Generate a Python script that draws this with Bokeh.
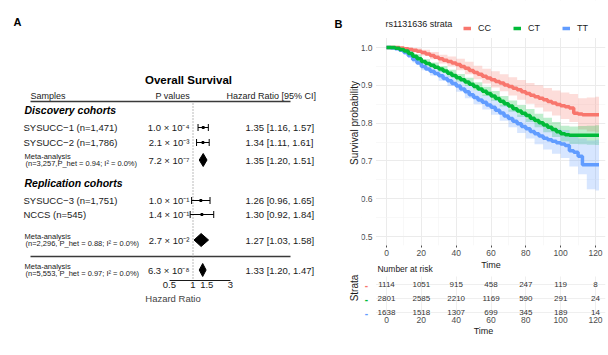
import math
from bokeh.plotting import figure
from bokeh.layouts import row, column
from bokeh.models import (Range1d, LinearScale, FixedTicker, NumeralTickFormatter,
                          SingleIntervalTicker, Legend, LegendItem, BoxAnnotation)
from bokeh.core.properties import value
from bokeh.embed import file_html
from bokeh.resources import INLINE

FONT = "Liberation Sans"

# ---------------- data: forest plot (panel A) ----------------
row_labels = ["SYSUCC−1 (n=1,471)", "SYSUCC−2 (n=1,786)", "Meta-analysis",
              "SYSUCC−3 (n=1,751)", "NCCS (n=545)", "Meta-analysis", "Meta-analysis"]
row_sublabels = ["", "", "(n=3,257,P_het = 0.94; I² = 0.0%)", "", "",
                 "(n=2,296, P_het = 0.88; I² = 0.0%)", "(n=5,553, P_het = 0.97; I² = 0.0%)"]
row_is_meta = [False, False, True, False, False, True, True]
hr = [1.35, 1.34, 1.35, 1.26, 1.30, 1.27, 1.33]
hr_low = [1.16, 1.11, 1.20, 0.96, 0.92, 1.03, 1.20]
hr_high = [1.57, 1.61, 1.51, 1.65, 1.84, 1.58, 1.47]
p_values = ["1.0 × 10⁻⁴", "2.1 × 10⁻³", "7.2 × 10⁻⁷", "1.0 × 10⁻¹",
            "1.4 × 10⁻¹", "2.7 × 10⁻²", "6.3 × 10⁻⁸"]
group_titles = ["Discovery cohorts", "Replication cohorts"]
column_headers = ["Samples", "P values", "Hazard Ratio [95% CI]"]
hr_ticks = [0.5, 1, 1.5, 3]

# ---------------- data: Kaplan-Meier (panel B) ----------------
strata = ["CC", "CT", "TT"]
legend_title = "rs1131636 strata"
curve_time = [0, 2.5, 5, 7.5, 10, 12.5, 15, 17.5, 20, 22.5, 25, 27.5, 30, 32.5, 35, 37.5, 40,
              42.5, 45, 47.5, 50, 52.5, 55, 57.5, 60, 62.5, 65, 67.5, 70, 72.5, 75, 77.5, 80,
              82.5, 85, 87.5, 90, 92.5, 95, 97.5, 100, 102.5, 105, 107.5, 110, 112.5, 115,
              117.5, 120, 122]
surv_cc = [1.000, 1.000, 1.000, 0.999, 0.997, 0.995, 0.993, 0.990, 0.987, 0.983, 0.979, 0.974,
           0.970, 0.966, 0.963, 0.959, 0.955, 0.950, 0.945, 0.939, 0.934, 0.929, 0.924, 0.919,
           0.915, 0.910, 0.906, 0.901, 0.897, 0.892, 0.888, 0.883, 0.878, 0.874, 0.870, 0.866,
           0.862, 0.857, 0.853, 0.849, 0.846, 0.843, 0.840, 0.826, 0.824, 0.822, 0.822, 0.822,
           0.822, 0.822]
surv_ct = [1.000, 1.000, 0.998, 0.995, 0.991, 0.984, 0.977, 0.970, 0.963, 0.958, 0.953, 0.948,
           0.943, 0.938, 0.932, 0.926, 0.920, 0.915, 0.909, 0.903, 0.897, 0.890, 0.884, 0.878,
           0.872, 0.865, 0.858, 0.851, 0.845, 0.838, 0.832, 0.826, 0.820, 0.813, 0.807, 0.801,
           0.795, 0.789, 0.783, 0.777, 0.772, 0.769, 0.768, 0.768, 0.768, 0.768, 0.768, 0.768,
           0.768, 0.768]
surv_tt = [1.000, 0.999, 0.997, 0.993, 0.987, 0.978, 0.968, 0.959, 0.950, 0.943, 0.937, 0.931,
           0.925, 0.918, 0.912, 0.905, 0.898, 0.890, 0.883, 0.875, 0.868, 0.861, 0.855, 0.848,
           0.842, 0.834, 0.827, 0.819, 0.812, 0.805, 0.798, 0.791, 0.785, 0.778, 0.772, 0.766,
           0.760, 0.756, 0.752, 0.748, 0.745, 0.741, 0.727, 0.723, 0.712, 0.690, 0.690, 0.690,
           0.690, 0.690]
band_time = [0, 5, 10, 15, 20, 25, 30, 35, 40, 45, 50, 55, 60, 65, 70, 75, 80, 85, 90, 95, 100,
             105, 110, 115, 120, 122]
low_cc = [1.000, 0.999, 0.993, 0.987, 0.979, 0.969, 0.958, 0.950, 0.940, 0.929, 0.916, 0.905, 0.894,
          0.884, 0.873, 0.862, 0.851, 0.841, 0.831, 0.820, 0.811, 0.803, 0.783, 0.778, 0.775, 0.775]
up_cc = [1.000, 1.000, 1.000, 0.998, 0.994, 0.988, 0.981, 0.976, 0.970, 0.962, 0.952, 0.944, 0.937,
         0.929, 0.921, 0.914, 0.906, 0.900, 0.893, 0.886, 0.881, 0.877, 0.866, 0.868, 0.870, 0.870]
low_ct = [1.000, 0.996, 0.987, 0.972, 0.957, 0.946, 0.935, 0.923, 0.910, 0.898, 0.886, 0.872, 0.859,
          0.844, 0.830, 0.816, 0.803, 0.789, 0.776, 0.763, 0.751, 0.745, 0.744, 0.743, 0.742, 0.742]
up_ct = [1.000, 1.000, 0.995, 0.982, 0.969, 0.960, 0.951, 0.941, 0.930, 0.920, 0.908, 0.896, 0.885,
         0.872, 0.860, 0.848, 0.837, 0.825, 0.814, 0.803, 0.793, 0.791, 0.792, 0.793, 0.794, 0.794]
low_tt = [1.000, 0.994, 0.981, 0.960, 0.940, 0.926, 0.912, 0.898, 0.883, 0.866, 0.850, 0.836, 0.822,
          0.806, 0.789, 0.774, 0.759, 0.744, 0.730, 0.719, 0.708, 0.685, 0.665, 0.625, 0.622, 0.622]
up_tt = [1.000, 1.000, 0.993, 0.976, 0.960, 0.948, 0.938, 0.926, 0.913, 0.900, 0.886, 0.874, 0.862,
         0.848, 0.835, 0.822, 0.811, 0.800, 0.790, 0.785, 0.782, 0.769, 0.759, 0.754, 0.756, 0.756]
surv_ticks = [0.5, 0.6, 0.7, 0.8, 0.9, 1.0]
surv_minor = [0.55, 0.65, 0.75, 0.85, 0.95]
risk_time = [0, 20, 40, 60, 80, 100, 120]
risk_cc = [1114, 1051, 915, 458, 247, 119, 8]
risk_ct = [2801, 2585, 2210, 1169, 590, 291, 24]
risk_tt = [1638, 1518, 1307, 699, 345, 189, 14]

COLORS = ["#F8766D", "#00BA38", "#619CFF"]

# =============== Panel A: forest plot ===============
LW = 345
PX_PER_LN = 34.0
X_ONE = 192.5
AXIS_Y = 280

left = figure(width=LW, height=355, x_axis_type="log",
              x_range=Range1d(math.exp(-X_ONE / PX_PER_LN), math.exp((LW - X_ONE) / PX_PER_LN)),
              y_range=Range1d(AXIS_Y, 0), y_axis_location=None,
              output_backend="svg", toolbar_location=None,
              min_border_left=0, min_border_right=0, min_border_top=0,
              min_border_bottom=355 - AXIS_Y)
left.extra_x_ranges = {"px": Range1d(0, LW)}
left.extra_x_scales = {"px": LinearScale()}
left.grid.visible = False
left.outline_line_color = None

ax = left.xaxis[0]
ax.bounds = (min(hr_ticks), max(hr_ticks))
ax.ticker = FixedTicker(ticks=hr_ticks)
ax.formatter = NumeralTickFormatter(format="0.[0]")
ax.axis_label = "Hazard Ratio"
ax.axis_label_text_font = FONT
ax.axis_label_text_font_style = "normal"
ax.axis_label_text_font_size = "9.5px"
ax.axis_label_standoff = 2
ax.major_label_text_font = FONT
ax.major_label_text_font_size = "9.5px"
ax.major_label_text_color = "#1a1a1a"
ax.major_label_standoff = 1
ax.major_tick_out = 0
ax.major_tick_in = 0
ax.minor_tick_out = 0
ax.minor_tick_in = 0
ax.axis_line_color = "#1a1a1a"
ax.axis_line_width = 1

row_y = [127, 142, 159.5, 200, 214, 239.5, 269.5]
group_y = [109, 182]

def txt(fig, x, y, t, size, align="left", style="normal", color="#1a1a1a", **kw):
    fig.text(x=x, y=y, text=t, text_font=value(FONT), text_font_size=size,
             text_align=align, text_baseline="middle", text_font_style=style,
             text_color=color, **kw)

PX = dict(x_range_name="px")
txt(left, [17, 338], [21, 23], ["A", "B"], "11px", align="center", style="bold", color="black", **PX)
txt(left, [188], [79], ["Overall Survival"], "11.5px", align="center", style="bold", color="black", **PX)
txt(left, [30, 155, 226], [95, 95, 95], column_headers, "9px", **PX)
left.segment(x0=[30, 30], y0=[101, 256], x1=[290, 290], y1=[101, 256], x_range_name="px",
             line_color="#3a3a3a", line_width=1.4)
txt(left, [24, 24], group_y, group_titles, "10.5px", style="bold italic", color="black", **PX)

# null line at HR = 1
left.segment(x0=[1], y0=[103], x1=[1], y1=[AXIS_Y], line_color="#777777",
             line_width=1, line_dash="1 2")

study_idx = [i for i, m in enumerate(row_is_meta) if not m]
meta_idx = [i for i, m in enumerate(row_is_meta) if m]

txt(left, [23] * len(study_idx), [row_y[i] for i in study_idx], [row_labels[i] for i in study_idx], "9.5px", **PX)
txt(left, [24] * len(meta_idx), [row_y[i] - 3.8 for i in meta_idx], [row_labels[i] for i in meta_idx], "7.5px", **PX)
txt(left, [25] * len(meta_idx), [row_y[i] + 3.8 for i in meta_idx], [row_sublabels[i] for i in meta_idx], "7.5px", **PX)
txt(left, [189] * len(row_y), row_y, p_values, "9.5px", align="right", **PX)
txt(left, [245] * len(row_y), row_y,
    ["%.2f [%.2f, %.2f]" % (h, l, u) for h, l, u in zip(hr, hr_low, hr_high)], "9.5px", **PX)

sy = [row_y[i] for i in study_idx]
slo = [hr_low[i] for i in study_idx]
shi = [hr_high[i] for i in study_idx]
left.segment(x0=slo, y0=sy, x1=shi, y1=sy, line_color="black", line_width=1)
left.segment(x0=slo, y0=[y - 3.5 for y in sy], x1=slo, y1=[y + 3.5 for y in sy], line_color="black", line_width=1)
left.segment(x0=shi, y0=[y - 3.5 for y in sy], x1=shi, y1=[y + 3.5 for y in sy], line_color="black", line_width=1)
left.scatter(x=[hr[i] for i in study_idx], y=sy, marker="square", size=2, color="black")

left.patches(xs=[[hr_low[i], hr[i], hr_high[i], hr[i]] for i in meta_idx],
             ys=[[row_y[i], row_y[i] - 6.5, row_y[i], row_y[i] + 6.5] for i in meta_idx],
             fill_color="black", line_color="black", line_width=1)

# =============== Panel B: Kaplan-Meier ===============
RW = 608 - LW
PX_PER_T = (595 - 386) / 120.0
T0 = 386 - LW                  # x of time 0 inside right figures
FL = 16                        # frame left (both right figures)
FR = RW - 3
x_end = 120 + (FR - (595 - LW)) / PX_PER_T
x_start = -(T0 - FL) / PX_PER_T
panel_left = -10.5 / PX_PER_T  # left edge of the KM panel (ggplot expansion)

KM_H = 259
KM_FB = 245
PX_PER_S = 378.0
y_top = 1.0 + 47 / PX_PER_S
y_bot = 0.5 - (KM_FB - 236) / PX_PER_S
panel_top = 1.0 + (47 - 37.6) / PX_PER_S

km = figure(width=RW, height=KM_H, x_range=Range1d(x_start, x_end),
            y_range=Range1d(y_bot, y_top), output_backend="svg", toolbar_location=None,
            min_border_left=FL, min_border_right=3, min_border_top=0,
            min_border_bottom=KM_H - KM_FB)
km.outline_line_color = None
km.xaxis.ticker = SingleIntervalTicker(interval=20, num_minor_ticks=2)
km.yaxis.ticker = FixedTicker(ticks=[])
km.ygrid[0].ticker = FixedTicker(ticks=surv_ticks, minor_ticks=surv_minor)
xa = km.xaxis[0]
xa.axis_line_color = None
xa.major_tick_line_color = "#4D4D4D"
xa.major_tick_out = 2
xa.major_tick_in = 0
xa.minor_tick_out = 0
xa.minor_tick_in = 0
xa.major_label_standoff = 2
xa.major_label_text_font = FONT
xa.major_label_text_font_size = "8.5px"
xa.major_label_text_color = "#4D4D4D"
ya = km.yaxis[0]
ya.axis_line_color = None
ya.major_tick_out = 0
ya.minor_tick_out = 0
ya.axis_label = "Survival probability"
ya.axis_label_text_font = FONT
ya.axis_label_text_font_style = "normal"
ya.axis_label_text_font_size = "10px"
ya.axis_label_text_color = "#1a1a1a"
ya.axis_label_standoff = 2
km.xgrid.grid_line_color = "#EBEBEB"
km.ygrid.grid_line_color = "#EBEBEB"
km.xgrid.minor_grid_line_color = "#F3F3F3"
km.ygrid.minor_grid_line_color = "#F3F3F3"
km.xgrid.minor_grid_line_width = 0.6
km.ygrid.minor_grid_line_width = 0.6
# white masks outside the ggplot panel (legend strip on top, tick-label strip on the left)
km.add_layout(BoxAnnotation(bottom=panel_top, fill_color="white", fill_alpha=1,
                            line_color=None, level="underlay"))
km.add_layout(BoxAnnotation(right=panel_left, fill_color="white", fill_alpha=1,
                            line_color=None, level="underlay"))

# y tick labels (drawn left of the panel)
txt(km, [(372 - 386) / PX_PER_T] * len(surv_ticks), surv_ticks,
    ["%.1f" % v for v in surv_ticks], "8.5px", align="right", color="#4D4D4D")

surv = [surv_cc, surv_ct, surv_tt]
lows = [low_cc, low_ct, low_tt]
ups = [up_cc, up_ct, up_tt]
for i in range(3):
    km.varea_step(x=band_time, y1=lows[i], y2=ups[i], step_mode="after",
                  fill_color=COLORS[i], fill_alpha=0.25)
lines = {}
for i in [0, 2, 1]:
    lines[i] = km.step(x=curve_time, y=surv[i], mode="after", line_color=COLORS[i], line_width=3.5)

txt(km, [-0.6], [1.0 + (47 - 23) / PX_PER_S], [legend_title], "9px")
legend = Legend(items=[LegendItem(label=strata[i], renderers=[lines[i]]) for i in range(3)],
                orientation="horizontal", location=(468 - 5 - (LW + FL), KM_FB - 33),
                margin=0, padding=5, spacing=22, glyph_width=8, glyph_height=10,
                label_height=10, label_width=12, label_standoff=7, label_text_font=FONT,
                label_text_font_size="9px", label_text_color="#1a1a1a",
                border_line_color=None, background_fill_alpha=0)
km.add_layout(legend)

# =============== risk table ===============
RISK_H = 355 - KM_H
ROW_PX = 14.0
RISK_TOP_ABS = KM_H
RISK_FB_ABS = 316
CC_ABS = 284
r_top = 3 + (CC_ABS - RISK_TOP_ABS) / ROW_PX
r_bot = 3 - (RISK_FB_ABS - CC_ABS) / ROW_PX
table_top = 3 + (CC_ABS - 276) / ROW_PX

risk = figure(width=RW, height=RISK_H, x_range=Range1d(x_start, x_end),
              y_range=Range1d(r_bot, r_top), output_backend="svg",
              toolbar_location=None, min_border_left=FL, min_border_right=3,
              min_border_top=0, min_border_bottom=355 - RISK_FB_ABS)
risk.outline_line_color = None
risk.xaxis.ticker = SingleIntervalTicker(interval=20, num_minor_ticks=0)
risk.yaxis.ticker = FixedTicker(ticks=[])
risk.ygrid[0].ticker = FixedTicker(ticks=[1, 2, 3])
risk.xgrid.grid_line_color = "#EFEFEF"
risk.ygrid.grid_line_color = "#EFEFEF"
risk.add_layout(BoxAnnotation(bottom=table_top, fill_color="white", fill_alpha=1,
                              line_color=None, level="underlay"))
risk.add_layout(BoxAnnotation(right=panel_left, fill_color="white", fill_alpha=1,
                              line_color=None, level="underlay"))
for a in (risk.xaxis[0], risk.yaxis[0]):
    a.axis_line_color = None
    a.major_tick_out = 0
    a.major_tick_in = 0
    a.minor_tick_out = 0
    a.minor_tick_in = 0
    a.major_label_standoff = 0
    a.major_label_text_font = FONT
    a.major_label_text_font_size = "8.5px"
    a.major_label_text_color = "#4D4D4D"
    a.axis_label_text_font = FONT
    a.axis_label_text_font_style = "normal"
    a.axis_label_text_color = "#1a1a1a"
    a.axis_label_standoff = 0
risk.xaxis.axis_label = "Time"
risk.xaxis.axis_label_text_font_size = "9px"
risk.yaxis.axis_label = "Strata"
risk.yaxis.axis_label_text_font_size = "10px"
risk.yaxis.axis_label_standoff = 2

# KM x-axis title and risk-table title (between the two panels)
txt(risk, [60], [3 + (CC_ABS - 264.5) / ROW_PX], ["Time"], "9px", align="center")
txt(risk, [-5.2], [3 + (CC_ABS - 268) / ROW_PX], ["Number at risk"], "8.5px")

risk_rows = [risk_cc, risk_ct, risk_tt]
row_level = [3, 2, 1]
for i in range(3):
    txt(risk, risk_time, [row_level[i]] * len(risk_time), [str(v) for v in risk_rows[i]],
        "8px", align="center", color="#333333")
txt(risk, [(366 - 386) / PX_PER_T] * 3, row_level, ["-", "-", "-"], "10px",
    align="center", style="bold", color=COLORS)

layout = row(left, column(km, risk, spacing=0), spacing=0)
open("out.html", "w").write(file_html(layout, INLINE))
